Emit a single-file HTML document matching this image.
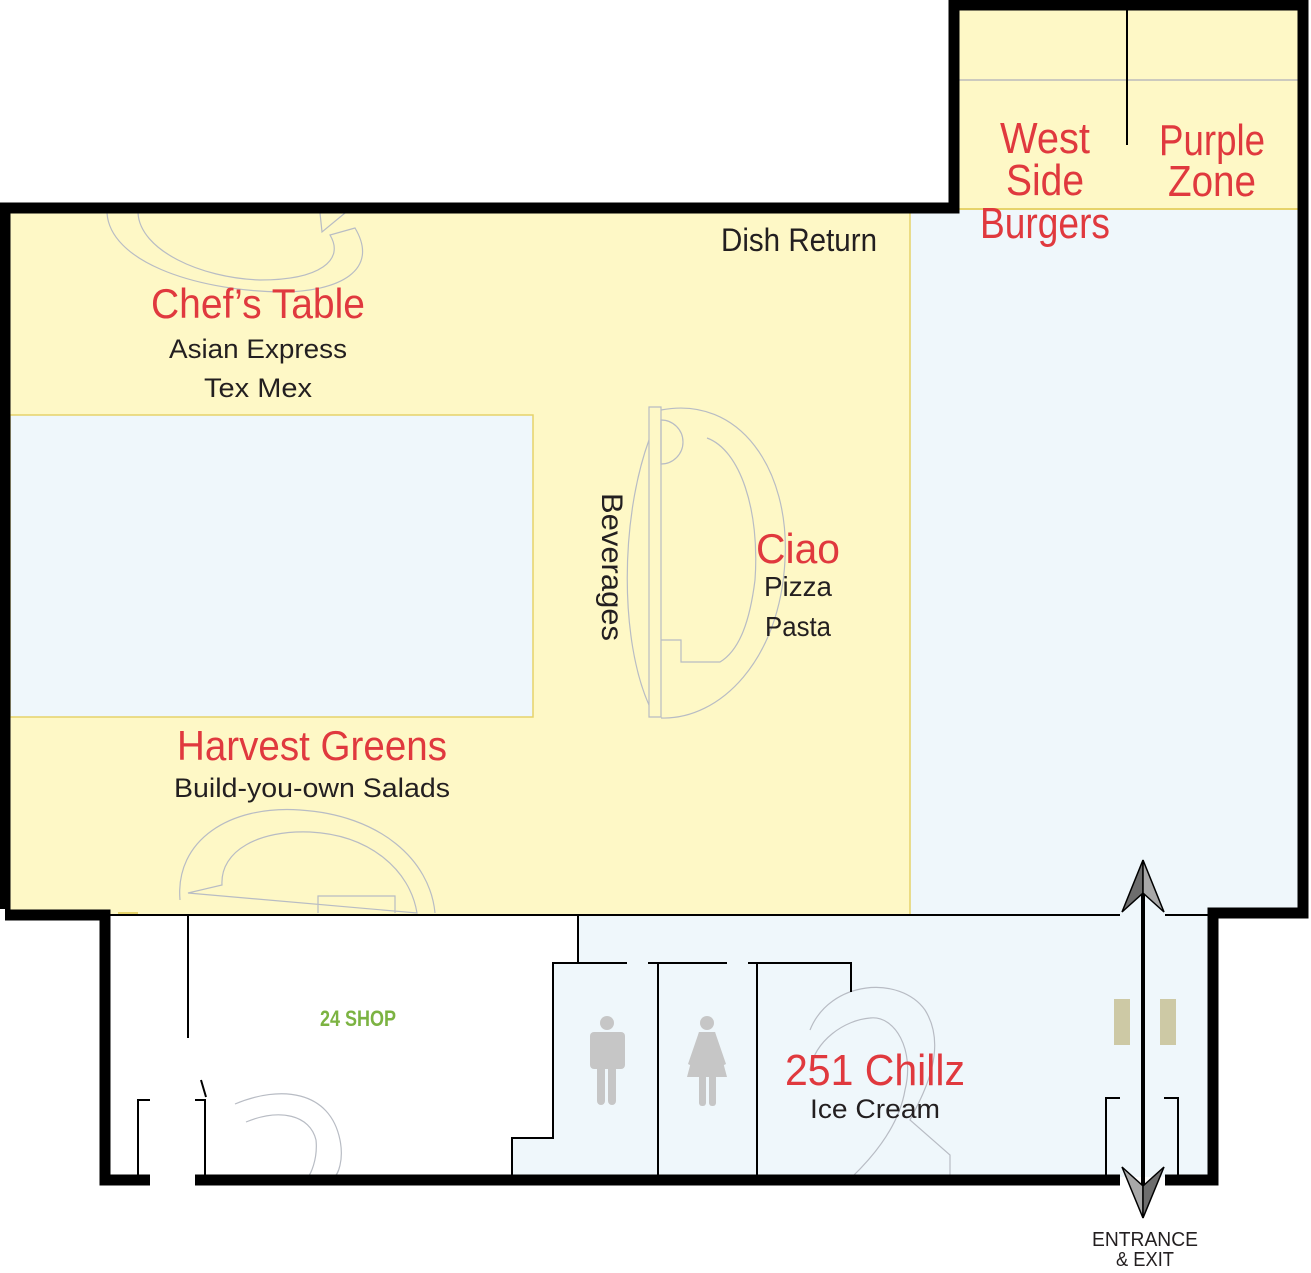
<!DOCTYPE html>
<html><head><meta charset="utf-8"><style>
html,body{margin:0;padding:0;background:#fff}
svg{display:block}
.r{fill:#e0393e;font-family:"Liberation Sans",sans-serif}
.k{fill:#231f20;font-family:"Liberation Sans",sans-serif}
</style></head><body>
<svg width="1311" height="1273" viewBox="0 0 1311 1273" xmlns="http://www.w3.org/2000/svg">
<rect x="10" y="213" width="900" height="702" fill="#fef8c6"/>
<rect x="957" y="9" width="342" height="200" fill="#fef8c6"/>
<rect x="910" y="209" width="390" height="706" fill="#eff7fb"/>
<rect x="10" y="415" width="523" height="302" fill="#eff7fb" stroke="#e6d36a" stroke-width="1.5"/>
<line x1="910" y1="213" x2="910" y2="915" stroke="#e6d36a" stroke-width="1.5"/>
<line x1="957" y1="209" x2="1299" y2="209" stroke="#e6d36a" stroke-width="2"/>
<line x1="957" y1="80" x2="1299" y2="80" stroke="#bbb" stroke-width="1.5"/>
<line x1="1127" y1="9" x2="1127" y2="145" stroke="#000" stroke-width="2"/>
<polygon points="578,915 1210,915 1210,1177 512,1177 512,1138 553,1138 553,963 578,963" fill="#eff7fb"/>
<g fill="none" stroke="#b8bcc4" stroke-width="1.2">
<path d="M107,213 C110,260 190,290 280,292 C340,292 380,270 355,228 L330,235 C345,260 320,280 260,280 C200,278 140,250 138,213"/>
<path d="M320,213 L322,232 L345,213"/>
<path d="M649,407 L661,407 L661,717 L649,717 Z"/>
<path d="M661,410 C740,395 790,470 785,560 C780,660 720,720 661,718"/>
<path d="M649,440 C620,520 620,640 649,705"/>
<path d="M661,420 A22,22 0 1 1 661,464 Z M707,438 C740,450 760,510 755,580 C750,620 740,650 720,662 L681,662 L681,640 L661,640"/>
<path d="M180,900 C175,840 230,805 300,810 C380,815 430,860 435,913 M417,913 C410,870 370,835 310,832 C260,830 220,850 222,885 L188,893 Z M318,913 L318,896 L395,896 L395,913"/>
<path d="M235,1104 C280,1085 330,1090 340,1140 C344,1160 338,1175 334,1177 M246,1122 C280,1108 310,1115 316,1140 C318,1160 310,1175 308,1177"/>
<path d="M810,1030 C830,980 900,975 925,1010 C950,1050 920,1100 910,1120 L950,1155 L950,1177 M852,1177 C880,1150 900,1120 905,1090 C915,1050 895,1015 870,1018 C845,1020 815,1040 810,1070"/>
</g>
<rect x="118" y="912" width="20" height="3" fill="#e6d36a"/>
<g stroke="#000" stroke-width="2" fill="none">
<line x1="105" y1="915" x2="1120" y2="915"/>
<line x1="1165" y1="915" x2="1213" y2="915"/>
<line x1="188" y1="915" x2="188" y2="1038"/>
<path d="M578,915 L578,963"/>
<path d="M627,963 L553,963 L553,1138 L512,1138 L512,1177"/>
<path d="M648,963 L727,963 M658,963 L658,1177"/>
<path d="M748,963 L851,963 L851,992 M757,963 L757,1177"/>
<path d="M150,1100 L138,1100 L138,1177"/>
<path d="M195,1100 L205,1100 L205,1177 M201,1080 L206,1097"/>
<path d="M1120,1098 L1106,1098 L1106,1177"/>
<path d="M1164,1098 L1178,1098 L1178,1177"/>
</g>
<g stroke="#000" stroke-width="11" fill="none" stroke-linejoin="miter">
<path d="M150,1180 L105,1180 L105,915 L5,915 L5,208 L954,208 L954,5 L1303,5 L1303,913 L1213,913 L1213,1180 L1165,1180"/>
<path d="M195,1180 L1120,1180"/>
</g>
<rect x="0" y="909" width="5" height="12" fill="#fff"/>
<rect x="1114" y="999" width="16" height="46" fill="#cdc9a5"/>
<rect x="1160" y="999" width="16" height="46" fill="#cdc9a5"/>
<line x1="1143" y1="890" x2="1143" y2="1190" stroke="#000" stroke-width="4"/>
<polygon points="1143,860 1122,912 1143,893" fill="#6d6d6d" stroke="#000" stroke-width="1.5"/>
<polygon points="1143,860 1164,912 1143,893" fill="#a8a8a8" stroke="#000" stroke-width="1.5"/>
<polygon points="1143,1218 1122,1167 1143,1186" fill="#a8a8a8" stroke="#000" stroke-width="1.5"/>
<polygon points="1143,1218 1164,1167 1143,1186" fill="#6d6d6d" stroke="#000" stroke-width="1.5"/>
<g fill="#c6c6c6">
<circle cx="607" cy="1023" r="7"/>
<rect x="590" y="1032" width="35" height="37" rx="4"/>
<rect x="597" y="1060" width="8" height="45" rx="4"/>
<rect x="608" y="1060" width="8" height="45" rx="4"/>
<circle cx="707" cy="1023" r="7"/>
<polygon points="699,1032 715,1032 727,1077 687,1077"/>
<polygon points="699,1032 703,1034 692,1066 688,1064"/>
<polygon points="715,1032 711,1034 722,1066 726,1064"/>
<rect x="699" y="1070" width="7" height="36" rx="3"/>
<rect x="709" y="1070" width="7" height="36" rx="3"/>
</g>
<text class="r" x="258" y="318" font-size="42" text-anchor="middle" textLength="214" lengthAdjust="spacingAndGlyphs">Chef’s Table</text>
<text class="k" x="258" y="358" font-size="27" text-anchor="middle" textLength="178" lengthAdjust="spacingAndGlyphs">Asian Express</text>
<text class="k" x="258" y="397" font-size="27" text-anchor="middle" textLength="108" lengthAdjust="spacingAndGlyphs">Tex Mex</text>
<text class="k" x="799" y="251" font-size="32" text-anchor="middle" textLength="156" lengthAdjust="spacingAndGlyphs">Dish Return</text>
<text class="r" x="1045" y="153" font-size="44" text-anchor="middle" textLength="90" lengthAdjust="spacingAndGlyphs">West</text>
<text class="r" x="1045" y="195" font-size="44" text-anchor="middle" textLength="78" lengthAdjust="spacingAndGlyphs">Side</text>
<text class="r" x="1045" y="238" font-size="44" text-anchor="middle" textLength="130" lengthAdjust="spacingAndGlyphs">Burgers</text>
<text class="r" x="1212" y="155" font-size="44" text-anchor="middle" textLength="106" lengthAdjust="spacingAndGlyphs">Purple</text>
<text class="r" x="1212" y="196" font-size="44" text-anchor="middle" textLength="88" lengthAdjust="spacingAndGlyphs">Zone</text>
<text class="r" x="798" y="563" font-size="42" text-anchor="middle" textLength="84" lengthAdjust="spacingAndGlyphs">Ciao</text>
<text class="k" x="798" y="596" font-size="28" text-anchor="middle" textLength="68" lengthAdjust="spacingAndGlyphs">Pizza</text>
<text class="k" x="798" y="636" font-size="28" text-anchor="middle" textLength="66" lengthAdjust="spacingAndGlyphs">Pasta</text>
<text class="k" font-size="30" text-anchor="middle" textLength="148" lengthAdjust="spacingAndGlyphs" transform="translate(602,567) rotate(90)">Beverages</text>
<text class="r" x="312" y="760" font-size="42" text-anchor="middle" textLength="270" lengthAdjust="spacingAndGlyphs">Harvest Greens</text>
<text class="k" x="312" y="797" font-size="27" text-anchor="middle" textLength="276" lengthAdjust="spacingAndGlyphs">Build-you-own Salads</text>
<text x="358" y="1026" font-size="22" text-anchor="middle" fill="#7cb342" font-family="Liberation Sans Narrow, Liberation Sans, sans-serif" font-weight="bold" textLength="76" lengthAdjust="spacingAndGlyphs">24 SHOP</text>
<text class="r" x="875" y="1085" font-size="44" text-anchor="middle" textLength="180" lengthAdjust="spacingAndGlyphs">251 Chillz</text>
<text class="k" x="875" y="1118" font-size="27" text-anchor="middle" textLength="130" lengthAdjust="spacingAndGlyphs">Ice Cream</text>
<text class="k" x="1145" y="1246" font-size="20" text-anchor="middle" textLength="106" lengthAdjust="spacingAndGlyphs">ENTRANCE</text>
<text class="k" x="1145" y="1266" font-size="20" text-anchor="middle" textLength="58" lengthAdjust="spacingAndGlyphs">&amp; EXIT</text>
</svg>
</body></html>
